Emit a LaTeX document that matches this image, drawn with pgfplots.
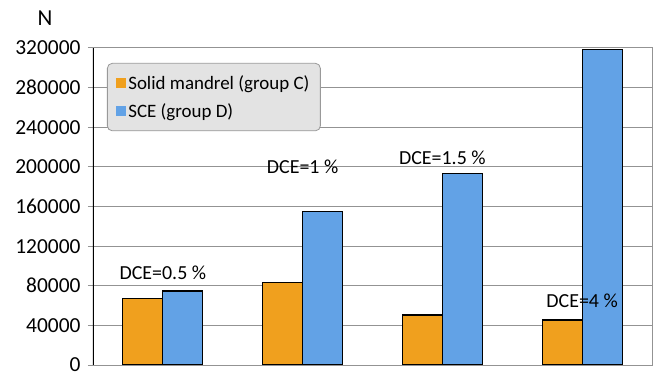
\documentclass[border=0pt]{standalone}
\usepackage{fontspec}
\setmainfont{Carlito}
\usepackage{pgfplots}
\pgfplotsset{compat=1.18}
\definecolor{barorange}{HTML}{F0A01E}
\definecolor{barblue}{HTML}{62A2E6}
\begin{document}
\begin{tikzpicture}
\begin{axis}[
  scale only axis,
  width=559bp, height=317bp,
  ybar=0pt, bar width=40bp,
  xmin=-0.5, xmax=3.5,
  ymin=0, ymax=320000,
  xtick=\empty,
  ytick={0,40000,80000,120000,160000,200000,240000,280000,320000},
  yticklabel style={/pgf/number format/fixed,/pgf/number format/1000 sep={}, xshift=-4bp},
  scaled y ticks=false,
  /pgf/number format/assume math mode=true,
  tick label style={font=\fontsize{21.5}{26}\selectfont},
  ymajorgrids,
  grid style={gray!85, line width=1pt},
  axis line style={gray!85, line width=1pt},
  tick style={gray!85, line width=1pt},
  tick align=outside,
  major tick length=5bp,
  ytick pos=left,
  legend style={at={(0.025,0.953)}, anchor=north west, fill=gray!22, draw=gray!80, rounded corners=5pt, font=\fontsize{19}{22}\selectfont, row sep=9pt, inner xsep=9pt, inner ysep=10pt, line width=0.8pt},
  legend cell align=left,
  legend image code/.code={\fill[#1, draw=none, sharp corners] (0bp,-5bp) rectangle (10bp,5bp);},
]
\addplot[fill=barorange, draw=black, line width=1.2pt] coordinates {(0,67300) (1,83500) (2,50500) (3,45400)};
\addplot[fill=barblue, draw=black, line width=1.2pt] coordinates {(0,74700) (1,154700) (2,193400) (3,318500)};
\legend{Solid mandrel (group C), SCE (group D)}
\draw[black, line width=1.3pt] (rel axis cs:0,0) -- (rel axis cs:0,1);
\node[font=\fontsize{20}{24}\selectfont] at (axis cs:0,93000) {DCE=0.5 \%};
\node[font=\fontsize{20}{24}\selectfont] at (axis cs:1.0,200000) {DCE=1 \%};
\node[font=\fontsize{20}{24}\selectfont] at (axis cs:2.0,209000) {DCE=1.5 \%};
\node[font=\fontsize{20}{24}\selectfont] at (axis cs:3.0,65000) {DCE=4 \%};
\end{axis}
\node[font=\fontsize{23}{28}\selectfont] at (-48bp,347bp) {N};
\pgfresetboundingbox
\path[use as bounding box] (-93bp,-9bp) rectangle (563bp,365bp);
\end{tikzpicture}
\end{document}
